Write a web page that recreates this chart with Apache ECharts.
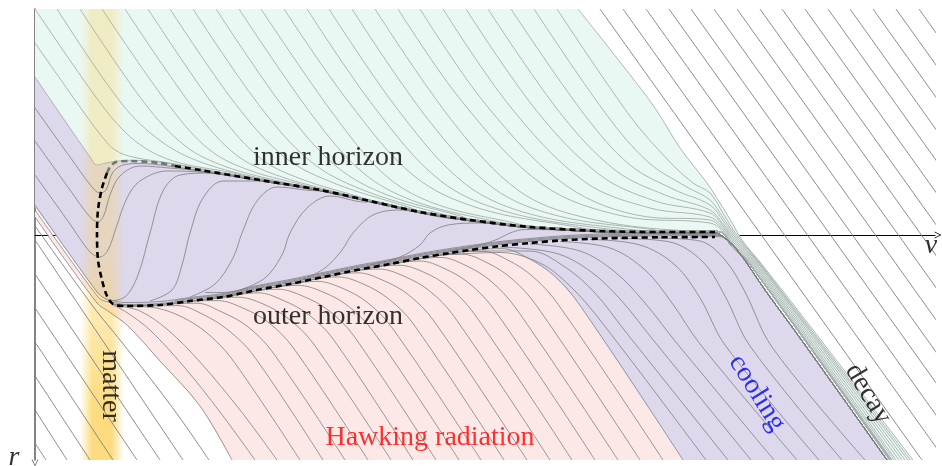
<!doctype html>
<html>
<head>
<meta charset="utf-8">
<title>horizons</title>
<script src="https://cdn.jsdelivr.net/npm/echarts@6/dist/echarts.min.js"></script>
<style>
    html, body { margin: 0; padding: 0; background: #fff; }
    #main { width: 942px; height: 466px; }
</style>
</head>
<body>
<div id="main"></div>
<script>
// coloured regions (v, r)
var tealArea = [[35,9],[578,9],[620,62],[655,108],[680,148],[707,183],[720,203],[731,221],[742,240],[760,262],[800,313],[860,391],[913,460],[887,460],[800,338],[765,290],[738,251],[724,237.5],[715,233],[660,232.5],[600,231],[530,227],[470,220],[420,212],[370,201],[320,190],[260,180],[200,170],[160,163],[130,161],[116,162],[106,163.5],[97,166],[90,157],[35,77]];
var lavenderArea = [[35,77],[90,157],[97,166],[106,163.5],[116,162],[130,161],[160,163],[200,170],[260,180],[320,190],[370,201],[420,212],[470,220],[530,227],[600,231],[660,232],[715,233],[724,237.5],[738,251],[765,290],[800,338],[887,460],[683,460],[578,302.6],[553,274.7],[528,258.2],[503,248.7],[478,249.5],[450,253],[420,258],[390,264],[357,270],[323,277],[290,284],[257,290],[223,297],[190,301],[160,305],[125,306],[113,304],[104,299],[97,293],[35,207]];
var pinkArea = [[35,211],[97,297],[106,303],[115,305.5],[125,306.5],[160,305.5],[190,301.5],[223,297.5],[257,290.5],[290,284.5],[323,277.5],[357,270.5],[390,264.5],[420,258.5],[450,253.5],[478,249.5],[503,248.7],[528,258.2],[553,274.7],[578,302.6],[683,460],[232,460],[200,406],[160,361],[128,326],[108,311],[97,303],[35,217]];
var matterBand = [80, 124];

// horizons
var innerHorizon = [[116,162],[130,161],[160,163],[200,170],[260,180],[320,190],[370,201],[420,212],[470,220],[530,227],[600,231],[660,232],[715,232]];
var horizonLoop = [[107,173],[102,188],[98,210],[97,235],[98,260],[102,280],[107,296],[113,304]];
var outerHorizon = [[113,304],[125,306],[160,305],[190,301],[223,297],[257,290],[290,284],[323,277],[357,270],[390,264],[420,258],[450,253],[470,250],[500,246],[530,243],[560,240.5],[600,238.5],[630,237.8],[660,237.3],[715,237]];
var innerDashGrey = [[107,173],[110,167],[116,162],[130,161],[160,163],[175,166]];

// rays falling onto the inner horizon from above
var tealHeads = [
    [[35,9],[98,100],[125,132],[150,151],[180,163],[230,172.3],[260,179.3]],
    [[35,43],[80,107],[100,134],[115,150],[135,157.5],[170,163],[210,170.5]],
    [[35,77],[90,157],[97,165],[106,163],[116,161.2],[130,160.3],[160,162.2]],
    [[57,9],[122,104],[162,142],[202,162.5],[262,178.6]],
    [[80,9],[145,103.7],[185,145.8],[225,166.4],[285,182.5]],
    [[102,9],[170,106.7],[210,150.2],[250,170.5],[310,186.6]],
    [[125,9],[195.5,111.2],[235.5,154.4],[275.5,174.8],[335.5,191.7]],
    [[148,9],[221,115.5],[261,158.7],[301,179],[361,197.3]],
    [[170,9],[235,103.3],[285,157.4],[335,183.5],[410,207.6]],
    [[193,9],[261,107.7],[311,161.7],[361,189.2],[436,212.4]],
    [[216,9],[287,112],[337,166.9],[387,194.9],[462,216.5]],
    [[239,9],[313,116.3],[363,172.7],[413,200.7],[488,219.9]],
    [[261,9],[339,121.7],[389,178.4],[439,205.2],[514,222.9]],
    [[284,9],[349,102.4],[414,175.9],[479,208.3],[576,226.9]],
    [[307,9],[375,108.1],[440,180.4],[505,211.3],[602,228.3]],
    [[329,9],[401,113.8],[466,184.5],[531,214.3],[628,229.2]],
    [[352,9],[428,119.3],[493,187.9],[558,215.9],[655,230]],
    [[375,9],[454,123.3],[519,190.9],[584,217.4],[681,230.5]]
];
var tealBottom = [890,890,889.5,890,890,890,890,890,890,890,890,890,890,890,890,890.5,891,891.5];
var tealTail = [[724,234],[731,246],[748,262]];
var tealRight = [
    [[398,9],[463,102.8],[543,184.9],[623,216.1],[710,223],[724,232.5],[732,245],[749.5,262],[892,460]],
    [[420,9],[487,106],[567,186.2],[647,216.8],[710,220],[724,231],[733,244],[751,262],[894,460]],
    [[443,9],[512,108.8],[585,182],[650,208],[710,217],[724,229],[734,243],[752.5,262],[896,460]],
    [[466,9],[537,111.3],[600,175],[655,201],[710,213],[724,227],[735,242],[754,262],[899,460]],
    [[488,9],[560,112.7],[615,170],[665,195],[710,210],[724,225],[736,241],[755.5,262],[902,460]],
    [[511,9],[584,114.1],[630,165],[675,190],[710,205],[724,222],[737,240],[757,262],[905,460]],
    [[534,9],[607,115.3],[648,162],[685,186],[710,200],[724,219],[738,239],[758,262],[908,460]],
    [[557,9],[630,116],[668,160],[693,183],[710,193],[724,215],[739,238],[759,262],[910.5,460]],
    [[578,9],[620,62],[655,108],[680,148],[707,183],[720,203],[731,221],[742,240],[760,262],[800,313],[860,391],[913,460]]
];

// rays between the horizons
var lavHeads = [
    [[35,108],[70,157],[92,187],[100,193],[106,190],[113,172],[125,164.5],[140,163.5],[165,165.5]],
    [[35,141],[70,190],[90,217],[98,222],[104,215],[110,195],[120,176],[140,166],[175,168.5]],
    [[35,175],[70,224],[90,252],[100,257],[108,250],[116,228],[127,198],[140,181],[167,171],[205,172.5]],
    [[108,301],[125,297],[138,275],[150,233],[163,191],[180,175],[210,173]],
    [[150,301],[172,290],[182,265],[190,233],[203,198],[223,181],[255,181]],
    [[190,297],[215,284],[233,258],[242,233],[257,201],[277,187],[310,190.5]],
    [[240,290],[265,278],[282,255],[290,233],[307,208],[330,196],[365,202]],
    [[300,281],[325,268],[342,250],[353,233],[373,215],[400,210],[440,217]],
    [[370,265],[400,257],[420,245],[430,233],[448,225],[480,223],[520,227]],
    [[450,251],[480,245],[498,239],[510,233],[525,229.5],[560,230],[600,232]]
];
var outerBundleHeads = [
    [[35,205],[97,292],[105,298.5],[115,301]],
    [[35,210],[98,297],[106,301.5],[116,303]],
    [[175,300.5]],
    [[205,292.5]]
];
var outerBundleOffset = [-3.5, -1.5, -2.5, -4.5];
var coolingTail = [[724,237.5],[738,251],[765,290],[800,338],[887,460]];

// rays peeling off the outer horizon (Hawking radiation)
var pinkRays = [
    [[35,217],[97,303],[108,311],[128,326],[160,361],[200,406],[232,460]],
    [[113,305],[126,312],[150,330],[185,368],[220,412],[255,460]],
    [[116,305.5],[140,311],[168,330],[200,362],[240,410],[277,460]],
    [[113,304.5],[132,306.3],[157,308.1],[182,317],[207,333],[232,359.1],[300,460]],
    [[113,304.5],[153,305.7],[178,305.6],[203,314.4],[228,330],[253,354.8],[323,460]],
    [[132,306.3],[172,303.9],[197,303.2],[222,312.1],[247,326.1],[272,351.3],[345,460]],
    [[153,305.7],[193,301.1],[218,300.6],[243,308.1],[268,322.1],[293,347.4],[368,460]],
    [[173,303.8],[213,298.7],[238,297.2],[263,303.9],[288,318.4],[313,343.1],[391,460]],
    [[193,301.1],[233,295.4],[258,292.8],[283,300.3],[308,314.2],[333,338.9],[413,460]],
    [[213,298.7],[253,291.3],[278,289.2],[303,296.2],[328,310],[353,334.8],[436,460]],
    [[233,295.4],[273,287.6],[298,285.3],[323,292],[348,305.9],[373,331.1],[459,460]],
    [[252,291.5],[292,284.1],[317,281.3],[342,288.1],[367,302.2],[392,327.6],[481,460]],
    [[273,287.6],[313,279.6],[338,276.9],[363,283.9],[388,298.4],[413,323.4],[504,460]],
    [[293,283.9],[333,275.4],[358,272.8],[383,280.3],[408,294.4],[433,319.8],[527,460]],
    [[314,279.4],[354,271.1],[379,269],[404,276.2],[429,290.5],[454,316.4],[550,460]],
    [[334,275.2],[374,267.4],[399,265.2],[424,272.3],[449,287.2],[474,313.5],[572,460]],
    [[355,270.9],[395,263.5],[420,261],[445,268.8],[470,284],[495,310.7],[595,460]],
    [[376,267],[416,259.3],[441,257.5],[466,265.6],[491,281.2],[516,308.4],[618,460]],
    [[397,263.1],[437,255.7],[462,254.2],[487,262.7],[512,278.8],[537,306.3],[640,460]],
    [[418,258.9],[458,252.3],[483,251.3],[508,260.2],[533,276.7],[558,304.2],[663,460]],
    [[438,255.5],[478,249.5],[503,248.7],[528,258.2],[553,274.7],[578,302.6],[683,460]]
];
// cooling
var coolingRays = [
    [[440,255],[500,252.5],[540,263],[570,286],[600,320],[706,460]],
    [[470,251],[530,251],[565,267],[595,293],[625,331],[728,460]],
    [[500,247],[555,253],[590,271],[620,299],[650,336],[751,460]],
    [[530,244],[580,251],[615,272],[645,303],[675,341],[774,460]],
    [[560,241.5],[610,248],[645,270],[672,303],[700,344],[797,460]],
    [[590,239.5],[640,245],[675,265],[700,298],[725,345],[819,460]],
    [[620,238.5],[670,242],[703,262],[725,296],[750,346],[842,460]],
    [[655,238],[700,241],[725,260],[745,292],[772,347],[865,460]],
    [[690,237.2],[715,236.5]]
];

// straight rays in flat space
var whiteLeft = [
    [[35,226],[95,309],[120,340],[150,378],[180,418],[209,460]],
    [[35,240],[183,460]], [[35,274],[160,460]], [[35,308],[137,460]], [[35,342],[113,460]],
    [[35,376],[90,460]], [[35,410],[67,460]], [[35,443],[46,460]]
];
var whiteRight = [
    [[600,9],[922,460]], [[623,9],[942,455.6]], [[646,9],[942,423.4]], [[669,9],[942,391.2]],
    [[691,9],[942,360.4]], [[714,9],[942,328.2]], [[737,9],[942,296]], [[760,9],[942,263.8]],
    [[782,9],[942,233]], [[805,9],[942,200.8]], [[828,9],[942,168.6]], [[850,9],[942,137.8]],
    [[873,9],[942,105.6]], [[896,9],[942,73.4]], [[919,9],[942,41.2]]
];

var labels = [
    {pos: [328,158], text: 'inner horizon', color: '#000', rotate: 0},
    {pos: [328,317], text: 'outer horizon', color: '#000', rotate: 0},
    {pos: [430,438], text: 'Hawking radiation', color: '#ff0000', rotate: 0},
    {pos: [110,386], text: 'matter', color: '#000', rotate: -90},
    {pos: [757,393], text: 'cooling', color: '#0000ff', rotate: -58},
    {pos: [868,394], text: 'decay', color: '#000', rotate: -59}
];
var axisNames = [
    {pos: [931,246], text: 'v'},
    {pos: [14,458], text: 'r'}
];

var TEAL_LINE = '#a6aeab';
var GREY_LINE = '#7f7f7f';
var FONT = '"Liberation Serif", "DejaVu Serif", serif';
var CHEVRON = 'path://M0,10 L5,0 L10,10 L8.8,10 L5,2.4 L1.2,10 Z';

var series = [];

function area(points, color) {
    series.push({
        type: 'custom', z: 1, silent: true, clip: false,
        data: [points[0]],
        renderItem: function (params, api) {
            return {
                type: 'polygon',
                shape: { points: points.map(function (p) { return api.coord(p); }) },
                style: { fill: color }
            };
        }
    });
}

function ray(points, color, width) {
    series.push({
        type: 'line', z: 3, data: points, symbol: 'none', showSymbol: false,
        smooth: 0.35, silent: true, clip: false,
        lineStyle: { color: color, width: width }
    });
}

function dashed(points, color) {
    series.push({
        type: 'line', z: 4, data: points, symbol: 'none', showSymbol: false,
        smooth: 0.3, silent: true, clip: false,
        lineStyle: { color: color, width: 2.6, type: [6, 4] }
    });
}

function follow(curve, fromX, dy) {
    return curve.filter(function (p) { return p[0] > fromX; })
        .map(function (p) { return [p[0], p[1] + dy]; });
}

area(tealArea, '#eaf8f3');
area(lavenderArea, '#ddd8ec');
area(pinkArea, '#fde8e8');

// matter shell, stronger towards the bottom
series.push({
    type: 'custom', z: 2, silent: true, clip: false,
    data: [[matterBand[0], 9]],
    renderItem: function (params, api) {
        var a = api.coord([matterBand[0], 9]);
        var b = api.coord([matterBand[1], 460]);
        var n = 30, kids = [];
        for (var i = 0; i < n; i++) {
            var y0 = Math.round(a[1] + (b[1] - a[1]) * i / n);
            var y1 = Math.round(a[1] + (b[1] - a[1]) * (i + 1) / n);
            var t = Math.min(1, Math.max(0, ((y0 + y1) / 2 - 260) / 150));
            var op = (0.3 + 0.45 * t).toFixed(3);
            var c = 'rgba(252,208,85,' + op + ')';
            kids.push({
                type: 'rect',
                shape: { x: a[0], y: y0, width: b[0] - a[0], height: y1 - y0 },
                style: {
                    fill: new echarts.graphic.LinearGradient(0, 0, 1, 0, [
                        { offset: 0, color: 'rgba(252,208,85,0)' },
                        { offset: 0.28, color: c },
                        { offset: 0.72, color: c },
                        { offset: 1, color: 'rgba(252,208,85,0)' }
                    ])
                }
            });
        }
        return { type: 'group', children: kids };
    }
});

tealHeads.forEach(function (h, i) {
    var last = h[h.length - 1][0];
    ray(h.concat(follow(innerHorizon, last, -0.8), tealTail, [[tealBottom[i], 460]]), TEAL_LINE, 0.9);
});
tealRight.forEach(function (h) { ray(h, TEAL_LINE, 0.9); });

lavHeads.forEach(function (h) {
    var last = h[h.length - 1][0];
    ray(h.concat(follow(innerHorizon, last, 0.8), coolingTail), GREY_LINE, 0.8);
});
outerBundleHeads.forEach(function (h, i) {
    var last = h[h.length - 1][0];
    ray(h.concat(follow(outerHorizon, last, outerBundleOffset[i]), coolingTail), GREY_LINE, 0.8);
});
pinkRays.forEach(function (p) { ray(p, GREY_LINE, 0.8); });
coolingRays.forEach(function (p, i) {
    ray(i === coolingRays.length - 1 ? p.concat(coolingTail) : p, GREY_LINE, 0.8);
});
whiteLeft.forEach(function (p) { ray(p, GREY_LINE, 0.9); });
whiteRight.forEach(function (p) { ray(p, GREY_LINE, 0.9); });

dashed(innerDashGrey, '#6f7775');
dashed([[175,166]].concat(follow(innerHorizon, 175, 0)), '#000');
dashed(horizonLoop.concat(outerHorizon.slice(1)), '#000');

series.push({
    type: 'scatter', z: 5, silent: true, clip: false, symbolSize: 0,
    data: labels.map(function (l) {
        return {
            value: l.pos,
            label: {
                show: true, position: 'inside', formatter: l.text, rotate: l.rotate,
                color: l.color, fontFamily: FONT, fontSize: 28
            }
        };
    }).concat(axisNames.map(function (l) {
        return {
            value: l.pos,
            label: {
                show: true, position: 'inside', formatter: l.text,
                color: '#000', fontFamily: FONT, fontSize: 28, fontStyle: 'italic'
            }
        };
    }))
});

var chart = echarts.init(document.getElementById('main'));
chart.setOption({
    animation: false,
    grid: { left: 35, right: 7, top: 9, bottom: 6 },
    xAxis: {
        type: 'value', min: 35, max: 935,
        axisLine: {
            onZero: true, onZeroAxisIndex: 1,
            lineStyle: { color: '#000', width: 1 },
            symbol: ['none', CHEVRON], symbolSize: [8, 7], symbolOffset: [0, 3]
        },
        axisTick: { show: false }, axisLabel: { show: false }, splitLine: { show: false }
    },
    yAxis: [
        {
            type: 'value', min: 9, max: 460, inverse: true,
            axisLine: {
                show: true, onZero: false,
                lineStyle: { color: '#666', width: 1.6 },
                symbol: [CHEVRON, 'none'], symbolSize: [8, 7], symbolOffset: [-3, 0]
            },
            axisTick: { show: false }, axisLabel: { show: false }, splitLine: { show: false }
        },
        {
            type: 'value', min: -226, max: 225, inverse: true,
            axisLine: { show: false }, axisTick: { show: false },
            axisLabel: { show: false }, splitLine: { show: false }
        }
    ],
    series: series
});
</script>
</body>
</html>
